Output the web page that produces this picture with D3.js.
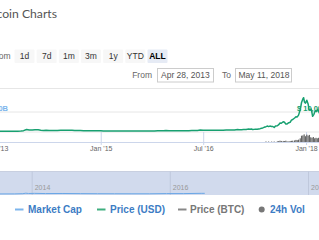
<!DOCTYPE html>
<html><head><meta charset="utf-8">
<script src="https://cdn.jsdelivr.net/npm/d3@7"></script>
<style>
body{margin:0;background:#fff;overflow:hidden}
svg{display:block;font-family:"Liberation Sans",Arial,sans-serif}
</style>
</head><body>
<svg id="c" width="319" height="240"></svg>
<script>
// ---------- data ----------
const titleText = "Bitcoin Charts";
const rangeButtons = ["1d","7d","1m","3m","1y","YTD","ALL"];
const selectedButton = "ALL";
const fromDate = "Apr 28, 2013";
const toDate = "May 11, 2018";

const priceDates = [
"2013-04-28","2013-05-15","2013-06-01","2013-06-15","2013-07-01","2013-07-15","2013-08-01","2013-08-15","2013-09-01","2013-09-15","2013-10-01","2013-10-15","2013-11-01","2013-11-15","2013-12-01","2013-12-15",
"2014-01-01","2014-01-15","2014-02-01","2014-02-15","2014-03-01","2014-03-15","2014-04-01","2014-04-15","2014-05-01","2014-05-15","2014-06-01","2014-06-15","2014-07-01","2014-07-15","2014-08-01","2014-08-15","2014-09-01","2014-09-15","2014-10-01","2014-10-15","2014-11-01","2014-11-15","2014-12-01","2014-12-15",
"2015-01-01","2015-01-15","2015-02-01","2015-02-15","2015-03-01","2015-03-15","2015-04-01","2015-04-15","2015-05-01","2015-05-15","2015-06-01","2015-06-15","2015-07-01","2015-07-15","2015-08-01","2015-08-15","2015-09-01","2015-09-15","2015-10-01","2015-10-15","2015-11-01","2015-11-15","2015-12-01","2015-12-15",
"2016-01-01","2016-01-15","2016-02-01","2016-02-15","2016-03-01","2016-03-15","2016-04-01","2016-04-15","2016-05-01","2016-05-15","2016-06-01","2016-06-15","2016-07-01","2016-07-15","2016-08-01","2016-08-15","2016-09-01","2016-09-15","2016-10-01","2016-10-15","2016-11-01","2016-11-15","2016-12-01","2016-12-15",
"2017-01-01","2017-01-08","2017-01-15","2017-01-22","2017-02-01","2017-02-15","2017-03-01","2017-03-08","2017-03-15","2017-03-22","2017-04-01","2017-04-15","2017-05-01","2017-05-08","2017-05-15","2017-05-22","2017-06-01","2017-06-08","2017-06-15","2017-06-22","2017-07-01","2017-07-08","2017-07-15","2017-07-22","2017-08-01","2017-08-08","2017-08-15","2017-08-22","2017-09-01","2017-09-08","2017-09-15","2017-09-22","2017-10-01","2017-10-08","2017-10-15","2017-10-22","2017-11-01","2017-11-08","2017-11-15","2017-11-22","2017-12-01","2017-12-08","2017-12-15","2017-12-19","2017-12-24","2017-12-29",
"2018-01-05","2018-01-12","2018-01-17","2018-01-22","2018-01-29","2018-02-05","2018-02-12","2018-02-19","2018-02-26","2018-03-05","2018-03-12","2018-03-19","2018-03-26","2018-04-02","2018-04-09","2018-04-16","2018-04-23","2018-04-30","2018-05-07","2018-05-11"
];
const priceUSD = [
135,115,128,100,88,98,105,110,140,130,125,150,205,420,1000,720,
760,850,820,640,560,630,470,480,450,450,630,590,640,620,590,500,480,470,380,390,330,390,380,340,
315,210,225,235,260,285,245,220,235,237,225,236,258,285,280,260,228,230,237,255,315,335,360,455,
434,390,373,400,430,415,417,430,450,455,540,700,675,665,610,570,575,610,615,640,730,740,750,780,
1000,900,820,925,990,1010,1220,1150,1250,1040,1080,1180,1420,1640,1780,2100,2410,2720,2450,2700,2500,2500,2000,2750,2870,3400,4200,4100,4900,4600,3700,3800,4400,4600,5700,6000,6750,7400,7300,8200,10900,14500,16300,16900,14600,14200,
15600,13800,11100,10800,11200,7600,8600,10400,10000,11000,9400,8600,8200,7000,6900,8100,8900,9250,9400,8500
];

const volDates = [
"2017-06-01","2017-06-15","2017-07-01","2017-07-15","2017-08-01","2017-08-08","2017-08-15","2017-08-22","2017-09-01","2017-09-08","2017-09-15","2017-09-22","2017-10-01","2017-10-08","2017-10-15","2017-10-22","2017-11-01","2017-11-08","2017-11-15","2017-11-22","2017-12-01","2017-12-08","2017-12-15","2017-12-22","2017-12-29",
"2018-01-05","2018-01-12","2018-01-19","2018-01-26","2018-02-02","2018-02-09","2018-02-16","2018-02-23","2018-03-02","2018-03-09","2018-03-16","2018-03-23","2018-03-30","2018-04-06","2018-04-13","2018-04-20","2018-04-27","2018-05-04","2018-05-11"
];
const volBn = [
1.0,0.9,0.8,0.9,1.2,1.8,2.5,2.0,2.0,1.8,2.5,1.3,1.2,1.8,2.2,2.5,3.0,4.0,3.5,4.5,7.0,12.0,12.5,14.5,11.0,
14.0,12.0,13.5,9.0,8.0,9.5,7.0,8.0,7.0,8.0,6.5,6.5,5.5,5.0,5.5,6.5,8.0,7.5,8.0
];

const navDates = ["2013-04-28","2013-07-01","2013-10-01","2013-11-15","2013-12-01","2013-12-15","2014-01-15","2014-03-15","2014-06-15","2014-09-15","2014-12-15","2015-03-15","2015-06-15","2015-09-15","2015-12-15","2016-03-15","2016-06-15","2016-07-04"];
const navMcapBn = [1.5,1.0,1.5,5,12.5,8,10,7,8,6,4.5,3.8,3.3,3.4,6.5,6.4,10.5,10.5];

const xTickDates = ["2013-07-01","2015-01-01","2016-07-01","2018-01-01"];
const xTickLabels = ["Jul '13","Jan '15","Jul '16","Jan '18"];
const navTickDates = ["2014-01-01","2016-01-01","2018-01-01"];
const navTickLabels = ["2014","2016","2018"];
const priceTicks = [10000];
const priceTickLabels = ["$ 10,000"];
const mcapTickLabels = ["$ 200B"];
const legendItems = ["Market Cap","Price (USD)","Price (BTC)","24h Vol"];

// ---------- drawing ----------
const parse = d3.timeParse("%Y-%m-%d");
const svg = d3.select("#c");
const start = parse("2013-04-28"), end = parse("2018-05-11");

// title
svg.append("text").attr("x",57).attr("y",18).attr("text-anchor","end")
  .attr("font-family","Lato, 'Liberation Sans', sans-serif").attr("font-size",12.2)
  .attr("fill","#555").text(titleText);

// zoom buttons
svg.append("text").attr("x",10.5).attr("y",59).attr("text-anchor","end")
  .attr("font-size",8.5).attr("fill","#666").text("Zoom");
const btnX = d3.scalePoint().domain(rangeButtons).range([24.5,157.5]);
const btn = svg.append("g").selectAll("g").data(rangeButtons).join("g")
  .attr("transform",d=>`translate(${btnX(d)},0)`);
btn.append("rect").attr("x",-10).attr("y",49.5).attr("width",20).attr("height",13.5).attr("rx",1)
  .attr("fill",d=>d===selectedButton?"#e6ebf5":"#f7f7f7");
btn.append("text").attr("y",59).attr("text-anchor","middle").attr("font-size",8.5)
  .attr("font-weight",d=>d===selectedButton?"bold":"normal")
  .attr("fill",d=>d===selectedButton?"#000":"#333").text(d=>d);

// date range inputs
svg.append("text").attr("x",152).attr("y",78).attr("text-anchor","end").attr("font-size",8.5).attr("fill","#666").text("From");
svg.append("rect").attr("x",157.5).attr("y",68.5).attr("width",56).attr("height",13.5).attr("fill","#fff").attr("stroke","#ccc");
svg.append("text").attr("x",161).attr("y",78).attr("font-size",8.5).attr("fill","#555").text(fromDate);
svg.append("text").attr("x",222).attr("y",78).attr("font-size",8.5).attr("fill","#666").text("To");
svg.append("rect").attr("x",235.5).attr("y",68.5).attr("width",56).attr("height",13.5).attr("fill","#fff").attr("stroke","#ccc");
svg.append("text").attr("x",238.5).attr("y",78).attr("font-size",8.5).attr("fill","#555").text(toDate);

// separator
svg.append("line").attr("x1",0).attr("x2",319).attr("y1",88.5).attr("y2",88.5).attr("stroke","#e6e6e6");

// scales
const x = d3.scaleTime().domain([start,end]).range([-14.1,330.4]);
const y = d3.scaleLinear().domain([0,20000]).range([131.5,91.5]);
const yv = d3.scaleLinear().domain([0,20]).range([142,131.5]);

// gridlines
const grid = svg.append("g").call(d3.axisLeft(y).tickValues([0].concat(priceTicks)).tickSize(-400).tickFormat(""));
grid.select(".domain").remove();
grid.selectAll("line").attr("stroke","#e6e6e6");

// y labels
svg.append("g").selectAll("text").data(priceTicks).join("text")
  .attr("x",8).attr("y",d=>y(d)-1).attr("text-anchor","end").attr("font-size",7.5).attr("font-weight","bold")
  .attr("fill","#7cb5ec").text((d,i)=>mcapTickLabels[i]);

// x axis
const xa = svg.append("g").attr("transform","translate(0,142)")
  .call(d3.axisBottom(x).tickValues(xTickDates.map(parse)).tickSize(3).tickFormat((d,i)=>xTickLabels[i]));
xa.select(".domain").attr("stroke","#ccd6eb");
xa.selectAll("line").attr("stroke","#ccd6eb").attr("y1",-10);
xa.selectAll("text").attr("font-size",7).attr("fill","#666").attr("dy","0.3em").attr("y",7);

// volume bars
svg.append("g").selectAll("rect").data(volBn).join("rect")
  .attr("x",(d,i)=>x(parse(volDates[i]))-0.6).attr("width",1.2)
  .attr("y",d=>yv(d)).attr("height",d=>yv(0)-yv(d)).attr("fill","#666");

// price line
const pts = priceUSD.map((v,i)=>[parse(priceDates[i]),v]);
svg.append("path").datum(pts).attr("fill","none").attr("stroke","#17a070").attr("stroke-width",1.5)
  .attr("stroke-linejoin","round")
  .attr("d",d3.line().x(d=>x(d[0])).y(d=>y(d[1])));

svg.append("g").selectAll("text").data(priceTicks).join("text")
  .attr("x",297).attr("y",d=>y(d)-1).attr("font-size",7.5).attr("font-weight","bold")
  .attr("fill","#17a070").text((d,i)=>priceTickLabels[i]);

// navigator
const nx = d3.scaleTime().domain([start,end]).range([-15.2,332.6]);
const ny = d3.scaleLinear().domain([0,330]).range([194,173]);
svg.append("rect").attr("x",0).attr("y",171.5).attr("width",319).attr("height",23.5).attr("fill","#d1daed");
svg.append("line").attr("x1",0).attr("x2",319).attr("y1",171.5).attr("y2",171.5).attr("stroke","#c8cfe0");
const na = svg.append("g").attr("transform","translate(0,171.5)")
  .call(d3.axisBottom(nx).tickValues(navTickDates.map(parse)).tickSize(23.5).tickFormat((d,i)=>navTickLabels[i]));
na.select(".domain").remove();
na.selectAll("line").attr("stroke","#bfc8dc");
na.selectAll("text").attr("text-anchor","start").attr("x",2.5).attr("y",16).attr("dy","0.3em")
  .attr("font-size",7).attr("fill","#999");
const npts = navMcapBn.map((v,i)=>[parse(navDates[i]),v]);
svg.append("path").datum(npts).attr("fill","none").attr("stroke","#6aa7e6").attr("stroke-width",1)
  .attr("d",d3.line().x(d=>nx(d[0])).y(d=>ny(d[1])));

// legend
const legX = [15,97,178,261.7];
const legTextX = [28,110,190,270];
const legColor = ["#7cb5ec","#3fae7f","#888","#777"];
const legTextColor = ["#3c7cc4","#3c7cc4","#777","#3c7cc4"];
const lg = svg.append("g");
legendItems.forEach((name,i)=>{
  if(i===3){
    lg.append("circle").attr("cx",legX[i]).attr("cy",209.5).attr("r",3).attr("fill",legColor[i]);
  } else {
    lg.append("line").attr("x1",legX[i]).attr("x2",legX[i]+8.5).attr("y1",209.5).attr("y2",209.5)
      .attr("stroke",legColor[i]).attr("stroke-width",2);
  }
  lg.append("text").attr("x",legTextX[i]).attr("y",213).attr("font-size",10).attr("font-weight","bold")
    .attr("fill",legTextColor[i]).text(name);
});
</script>
</body></html>
